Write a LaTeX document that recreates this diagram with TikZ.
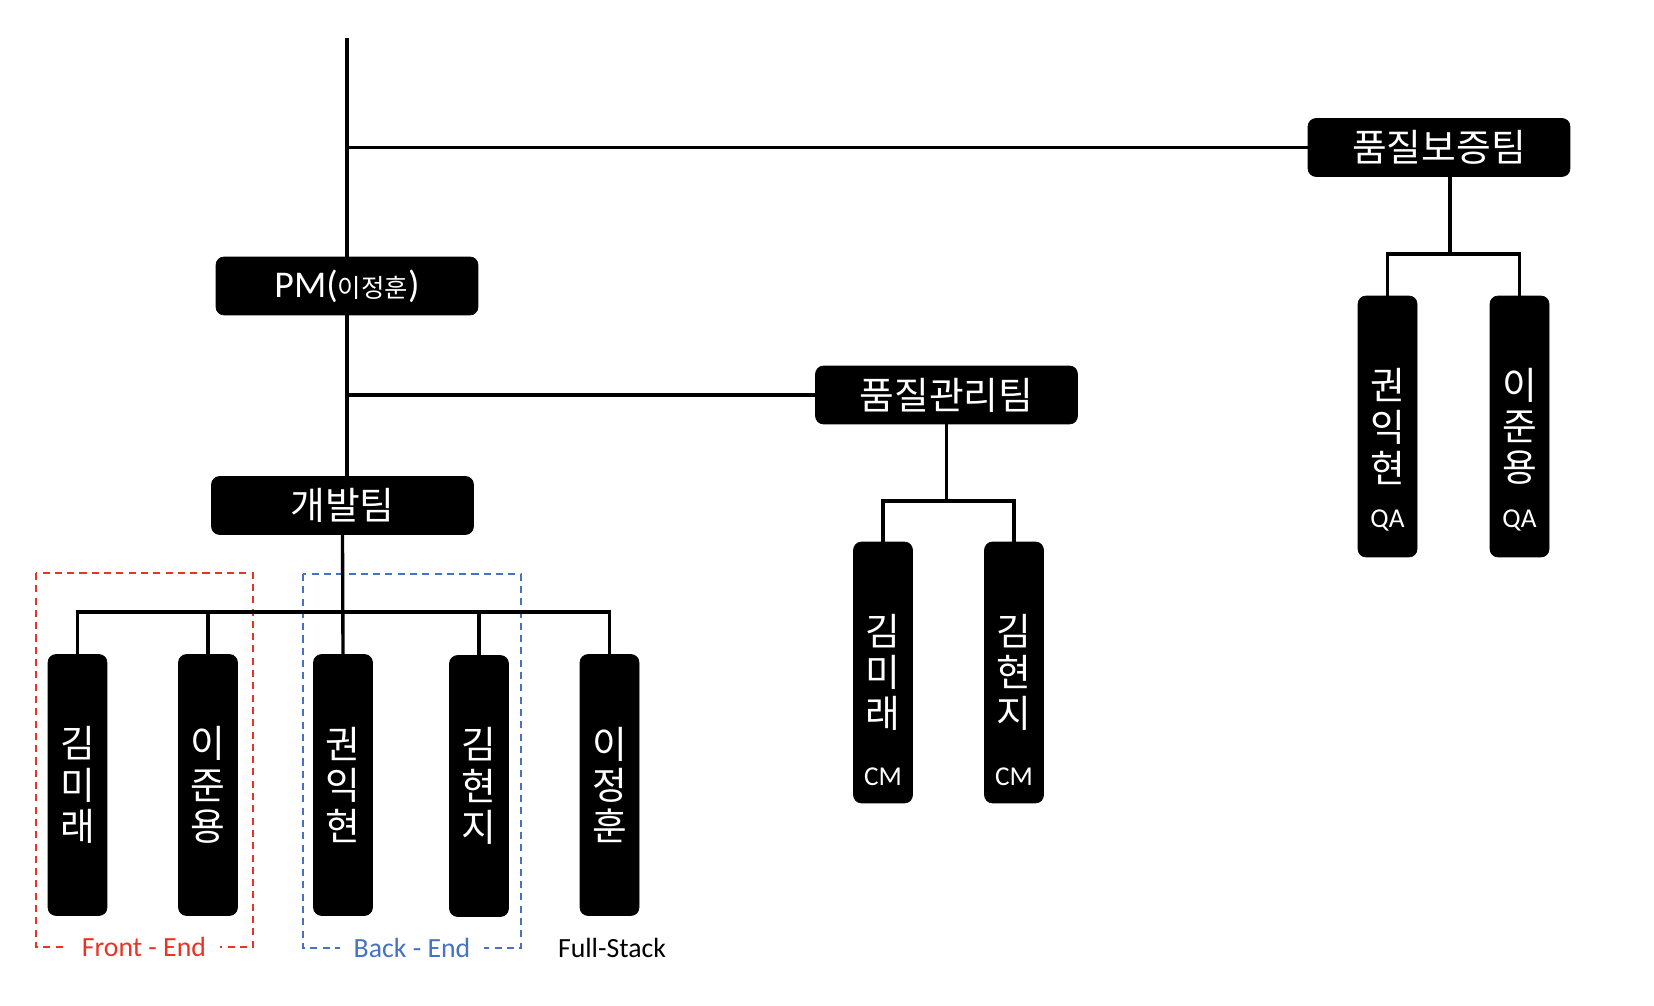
\documentclass[tikz,border=0pt]{standalone}
\usepackage{fontspec}
\setmainfont{Carlito}
\newfontfamily\kr{Noto Sans CJK KR}
\usetikzlibrary{positioning}

\definecolor{feRed}{RGB}{234,51,35}
\definecolor{beBlue}{RGB}{68,114,196}

\begin{document}
\begin{tikzpicture}[x=0.02cm, y=-0.02cm, line width=1.9pt]
  \tikzstyle{team}=[fill=black, draw=black, line width=0.4pt, rounded corners=0.16cm, text=white, minimum width=5.24cm, minimum height=1.16cm, inner sep=0pt, font=\kr\fontsize{21.5}{24}\selectfont]
  \tikzstyle{member}=[fill=black, draw=black, line width=0.4pt, rounded corners=0.16cm, text=white, minimum width=1.18cm, minimum height=5.22cm, inner sep=0pt, align=center, font=\kr\fontsize{21.5}{23.5}\selectfont]
  \tikzstyle{role}=[text=white, inner sep=0pt, font=\fontsize{15.5}{18}\selectfont]
  \tikzstyle{group}=[line width=1.1pt, dash pattern=on 4pt off 3pt]
  \tikzstyle{grouplabel}=[fill=white, inner xsep=8pt, inner ysep=1pt, font=\fontsize{15.8}{18}\selectfont]

  \useasboundingbox (0,0) rectangle (1654,1006);

  % teams
  \coordinate (top) at (347,38);
  \node[team] (qa) at (1439,147.5) {품질보증팀};
  \node[team, font=\fontsize{21.5}{24}\selectfont] (pm) at (347,286) {PM({\kr\fontsize{14.5}{16}\selectfont 이정훈})};
  \node[team] (qc) at (946.5,395) {품질관리팀};
  \node[team] (dev) at (342.5,505.5) {개발팀};

  % groups
  \draw[group, feRed] (36,573) rectangle (253,947);
  \draw[group, beBlue] (303,574) rectangle (521,948);
  \node[grouplabel, text=feRed] (fe) at (144,947) {Front - End};
  \node[grouplabel, text=beBlue] (be) at (412,948) {Back - End};
  \node[grouplabel] (fs) at (612,948) {Full-Stack};

  % members
  \node[member] (d1) at (77.5,785) {김\\미\\래};
  \node[member] (d2) at (208,785) {이\\준\\용};
  \node[member] (d3) at (343,785) {권\\익\\현};
  \node[member] (d4) at (479,786) {김\\현\\지};
  \node[member] (d5) at (609.5,785) {이\\정\\훈};

  \node[member] (c1) at (883,672.5) {김\\미\\래};
  \node[member] (c2) at (1014,672.5) {김\\현\\지};
  \node[role, above=9pt of c1.south] (c1r) {CM};
  \node[role, above=9pt of c2.south] (c2r) {CM};

  \node[member] (q1) at (1387.5,426.5) {권\\익\\현};
  \node[member] (q2) at (1519.5,426.5) {이\\준\\용};
  \node[role, above=14pt of q1.south] (q1r) {QA};
  \node[role, above=14pt of q2.south] (q2r) {QA};

  % lines
  \draw (top) -- (pm.north);
  \draw (pm.south) -- (top |- dev.north);
  \draw (top |- qa.west) -- (qa.west);
  \draw (top |- qc.west) -- (qc.west);

  \coordinate (qajoin) at (1450,254);
  \draw (qajoin |- qa.south) -- (qajoin);
  \draw (q1.north) |- (qajoin) -| (q2.north);

  \coordinate (qcjoin) at (946.5,501);
  \draw (qc.south) -- (qcjoin);
  \draw (c1.north) |- (qcjoin) -| (c2.north);

  \coordinate (devbus) at (343,612);
  \draw (dev.south) -- (d3.north);
  \draw (d1.north) |- (devbus) -| (d5.north);
  \draw (d2.north) -- (d2.north |- devbus);
  \draw (d4.north) -- (d4.north |- devbus);
\end{tikzpicture}
\end{document}
